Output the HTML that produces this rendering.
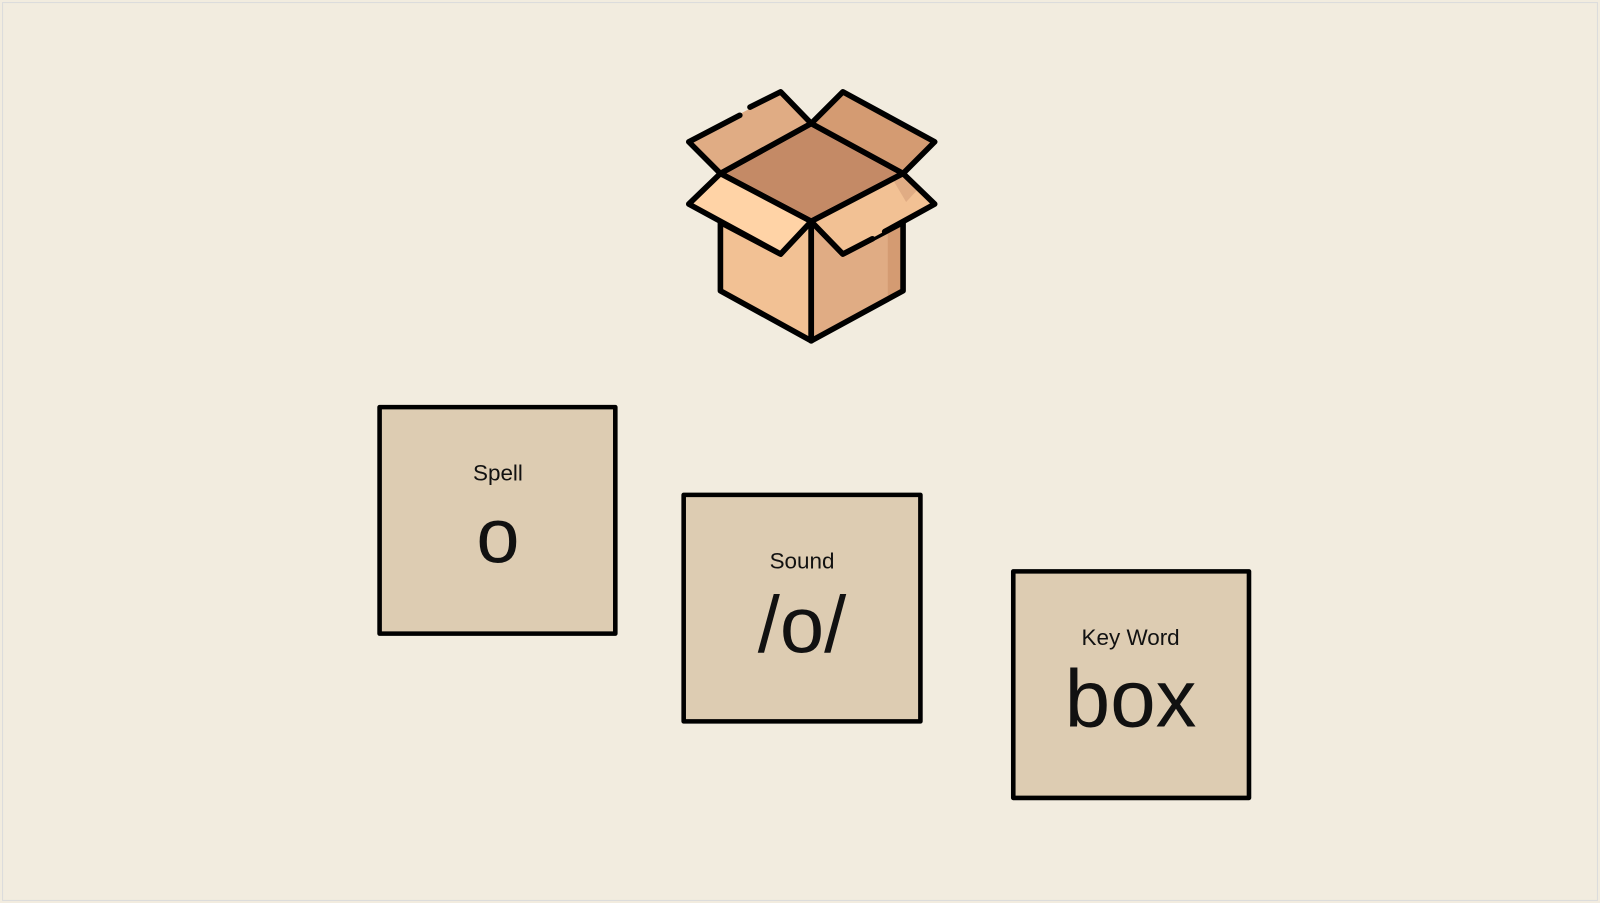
<!DOCTYPE html>
<html><head><meta charset="utf-8"><style>
html,body{margin:0;padding:0;background:#F2ECDF;}
svg{display:block;}
text{font-family:"Liberation Sans",sans-serif;fill:#111;text-anchor:middle;}
</style></head><body>
<svg width="1600" height="903" viewBox="0 0 1568 885" preserveAspectRatio="none" xmlns="http://www.w3.org/2000/svg">
<rect x="0" y="0" width="1568" height="885" fill="#F2ECDF"/>
<rect x="2.5" y="2.5" width="1563" height="880" fill="none" stroke="#dcdcdc" stroke-width="1"/>
<g stroke="#000" stroke-width="5.5" stroke-linejoin="round" stroke-linecap="round">
  <!-- body -->
  <polygon points="706,218 765,249 795,217 795,334 706,285" fill="#F2C194"/>
  <polygon points="795,217 826,249 885,218 885,285 795,334" fill="#E0AC84" stroke="none"/>
  <polygon points="870,226 885,218 885,285 870,293" fill="#D49B72" stroke="none"/>
  <polygon points="795,217 826,249 885,218 885,285 795,334" fill="none"/>
  <!-- top opening -->
  <polygon points="795,121 885,170 795,217 706,170" fill="#C48A66"/>
  <!-- back flaps -->
  <polygon points="795,121 765,90 675,139 706,170" fill="#E0AC84" stroke="none"/>
  <polyline points="735,105 765,90 795,121 706,170 675,139 725,113" fill="none"/>
  <polygon points="795,121 826,90 916,139 885,170" fill="#D49B72"/>
  <!-- front flaps -->
  <polygon points="706,170 675,200 765,249 795,217" fill="#FFD3A6"/>
  <polygon points="885,170 916,200 826,249 795,217" fill="#F2C194" stroke="none"/>
  <polygon points="885,170 900,185 888,198 875,176" fill="#E0AC84" stroke="none"/>
  <polyline points="855,234 826,249 795,217 885,170 916,200 867,227" fill="none"/>
  <line x1="795" y1="217" x2="795" y2="334"/>
</g>
<g fill="#DDCCB2" stroke="#000" stroke-width="4.5" stroke-linejoin="round">
  <rect x="372" y="399" width="231" height="222"/>
  <rect x="670" y="485" width="232" height="222"/>
  <rect x="993" y="560" width="231" height="222"/>
</g>
<text x="488" y="471" font-size="22">Spell</text>
<text x="488" y="551" font-size="76">o</text>
<text x="786" y="557" font-size="22">Sound</text>
<text x="786" y="639" font-size="78">/o/</text>
<text x="1108" y="632" font-size="22">Key Word</text>
<text x="1108" y="712" font-size="80">box</text>
</svg>
</body></html>
